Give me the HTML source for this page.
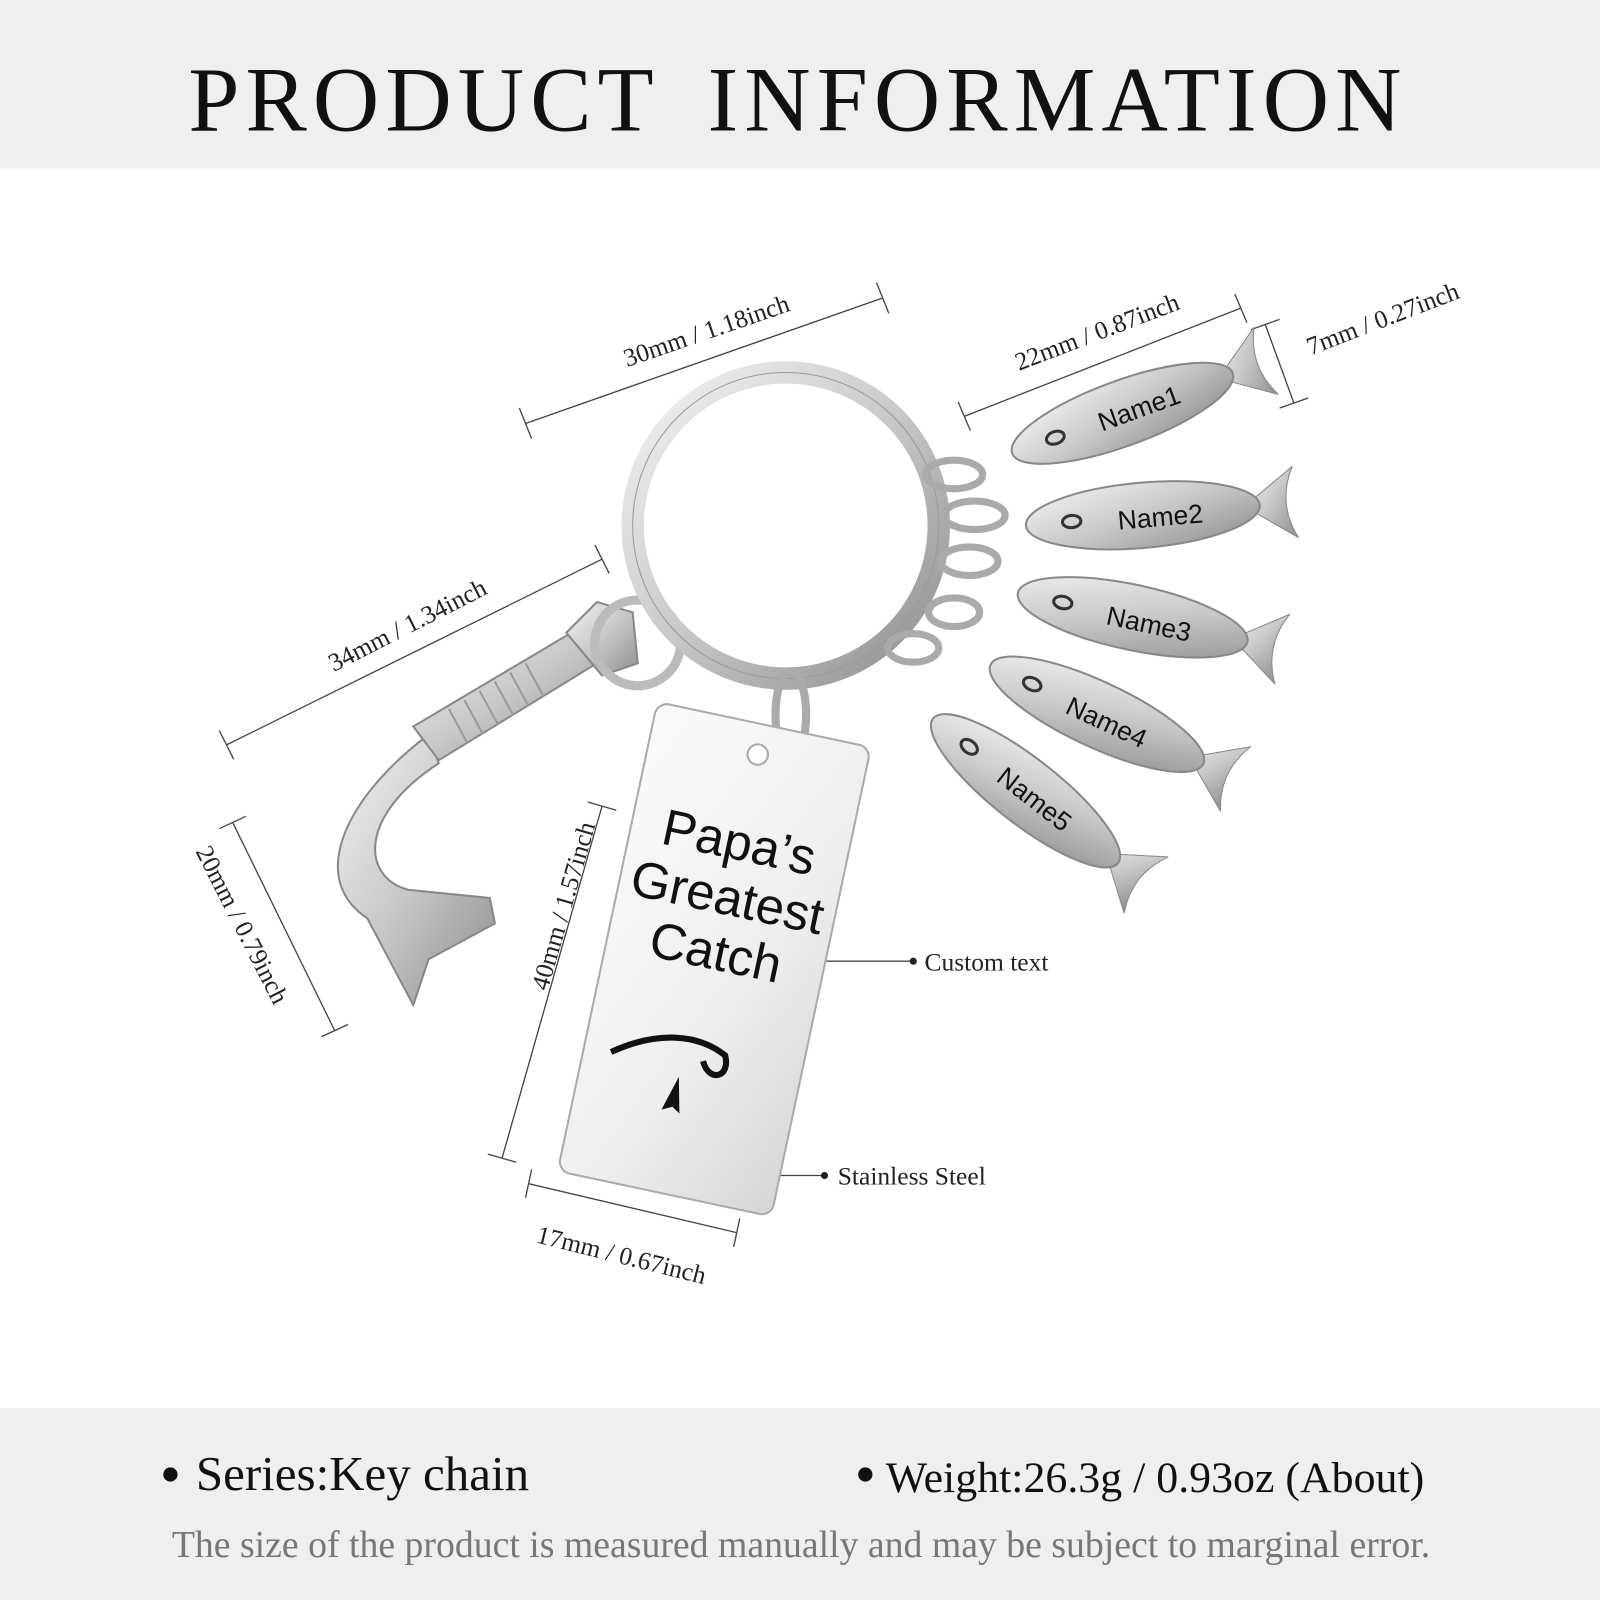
<!DOCTYPE html>
<html><head><meta charset="utf-8"><style>
html,body{margin:0;padding:0;background:#fff;}
svg{display:block}
</style></head><body>
<svg width="1600" height="1600" viewBox="0 0 1568 1568" xmlns="http://www.w3.org/2000/svg">
<defs>
<linearGradient id="steel" x1="0" y1="0" x2="1" y2="1">
<stop offset="0" stop-color="#f4f4f4"/><stop offset="0.5" stop-color="#c8c8c8"/><stop offset="1" stop-color="#8e8e8e"/>
</linearGradient>
<linearGradient id="tag" x1="0" y1="0" x2="1" y2="1">
<stop offset="0" stop-color="#fbfbfb"/><stop offset="0.6" stop-color="#eeeeee"/><stop offset="1" stop-color="#d6d6d6"/>
</linearGradient>
</defs>
<rect x="0" y="0" width="1568" height="165" fill="#efefef"/>
<text x="782" y="128" text-anchor="middle" font-family="Liberation Serif, serif" font-size="90" fill="#111" letter-spacing="6" word-spacing="20">PRODUCT INFORMATION</text>

<g stroke="#444" stroke-width="1.3" fill="none">
<line x1="515" y1="415" x2="865" y2="292"/><line x1="509" y1="400" x2="521" y2="430"/><line x1="859" y1="277" x2="871" y2="307"/>
<line x1="945" y1="408" x2="1216" y2="302"/><line x1="939" y1="394" x2="951" y2="422"/><line x1="1210" y1="288" x2="1222" y2="316"/>
<line x1="1240" y1="318" x2="1268" y2="395"/><line x1="1226" y1="323" x2="1254" y2="313"/><line x1="1254" y1="400" x2="1282" y2="390"/>
<line x1="222" y1="730" x2="590" y2="548"/><line x1="215" y1="716" x2="229" y2="744"/><line x1="583" y1="534" x2="597" y2="562"/>
<line x1="228" y1="806" x2="328" y2="1010"/><line x1="215" y1="812" x2="241" y2="800"/><line x1="315" y1="1016" x2="341" y2="1004"/>
<line x1="590" y1="790" x2="492" y2="1135"/><line x1="576" y1="786" x2="604" y2="794"/><line x1="478" y1="1131" x2="506" y2="1139"/>
<line x1="518" y1="1160" x2="722" y2="1208"/><line x1="521" y1="1146" x2="515" y2="1174"/><line x1="725" y1="1194" x2="719" y2="1222"/>
<line x1="772" y1="942" x2="895" y2="942"/><line x1="690" y1="1152" x2="808" y2="1152"/>
</g>
<circle cx="895" cy="942" r="3.5" fill="#222"/><circle cx="808" cy="1152" r="3.5" fill="#222"/>
<g font-family="Liberation Serif, serif" font-size="25" fill="#222">
<text transform="translate(695,332) rotate(-19)" text-anchor="middle">30mm / 1.18inch</text>
<text transform="translate(1078,333) rotate(-21)" text-anchor="middle">22mm / 0.87inch</text>
<text transform="translate(1358,320) rotate(-21)" text-anchor="middle">7mm / 0.27inch</text>
<text transform="translate(403,620) rotate(-27)" text-anchor="middle">34mm / 1.34inch</text>
<text transform="translate(230,910) rotate(63)" text-anchor="middle">20mm / 0.79inch</text>
<text transform="translate(560,890) rotate(-74)" text-anchor="middle">40mm / 1.57inch</text>
<text transform="translate(607,1238) rotate(14)" text-anchor="middle">17mm / 0.67inch</text>
<text x="906" y="951">Custom text</text>
<text x="821" y="1161">Stainless Steel</text>
</g>

<path d="M420,720 C340,780 300,860 360,900 L405,985 L420,940 L485,905 L480,880 L400,872 C355,860 350,800 430,748 Z" fill="url(#steel)" stroke="#888" stroke-width="2"/>
<path d="M405,712 L560,620 L585,650 L430,745 Z" fill="url(#steel)" stroke="#888" stroke-width="2"/>
<g stroke="#999" stroke-width="2">
<line x1="440" y1="695" x2="458" y2="728"/><line x1="455" y1="686" x2="473" y2="719"/><line x1="470" y1="677" x2="488" y2="710"/><line x1="485" y1="668" x2="503" y2="701"/><line x1="500" y1="659" x2="518" y2="692"/><line x1="515" y1="650" x2="533" y2="683"/>
</g>
<path d="M555,620 L585,590 L620,600 L625,650 L590,662 Z" fill="url(#steel)" stroke="#888" stroke-width="2"/>
<circle cx="625" cy="630" r="42" fill="none" stroke="#bbb" stroke-width="9"/>

<circle cx="770" cy="515" r="150" fill="none" stroke="url(#steel)" stroke-width="22"/>
<circle cx="770" cy="515" r="150" fill="none" stroke="#999" stroke-width="1"/>
<ellipse cx="775" cy="700" rx="15" ry="42" fill="none" stroke="#aaa" stroke-width="8"/>

<g transform="translate(700,940) rotate(12)">
<rect x="-107" y="-235" width="214" height="470" rx="12" fill="url(#tag)" stroke="#aaa" stroke-width="2"/>
<circle cx="0" cy="-205" r="10" fill="#fff" stroke="#aaa" stroke-width="2"/>
<g font-family="Liberation Sans, sans-serif" font-size="50" fill="#111" text-anchor="middle">
<text x="0" y="-100">Papa’s</text><text x="0" y="-45">Greatest</text><text x="0" y="10">Catch</text>
</g>
<path d="M-80,110 C-40,80 0,75 30,90 C40,110 20,120 10,100" fill="none" stroke="#111" stroke-width="6"/>
<path d="M-10,120 l-10,35 l10,-5 l8,5 z" fill="#111"/>
</g>

<g font-family="Liberation Sans, sans-serif" font-size="26" fill="#111">
<g transform="translate(1100,405) rotate(-20)"><path d="M100,0 L150,-35 Q132,0 150,35 Z" fill="url(#steel)" stroke="#888"/><ellipse cx="0" cy="0" rx="115" ry="32" fill="url(#steel)" stroke="#888" stroke-width="2"/><ellipse cx="-70" cy="0" rx="9" ry="6" fill="none" stroke="#333" stroke-width="3"/><text x="-25" y="10">Name1</text></g>
<g transform="translate(1120,505) rotate(-5)"><path d="M100,0 L150,-35 Q132,0 150,35 Z" fill="url(#steel)" stroke="#888"/><ellipse cx="0" cy="0" rx="115" ry="32" fill="url(#steel)" stroke="#888" stroke-width="2"/><ellipse cx="-70" cy="0" rx="9" ry="6" fill="none" stroke="#333" stroke-width="3"/><text x="-25" y="12">Name2</text></g>
<g transform="translate(1110,605) rotate(12)"><path d="M100,0 L150,-35 Q132,0 150,35 Z" fill="url(#steel)" stroke="#888"/><ellipse cx="0" cy="0" rx="115" ry="32" fill="url(#steel)" stroke="#888" stroke-width="2"/><ellipse cx="-70" cy="0" rx="9" ry="6" fill="none" stroke="#333" stroke-width="3"/><text x="-25" y="12">Name3</text></g>
<g transform="translate(1075,700) rotate(25)"><path d="M100,0 L150,-35 Q132,0 150,35 Z" fill="url(#steel)" stroke="#888"/><ellipse cx="0" cy="0" rx="115" ry="32" fill="url(#steel)" stroke="#888" stroke-width="2"/><ellipse cx="-70" cy="0" rx="9" ry="6" fill="none" stroke="#333" stroke-width="3"/><text x="-30" y="12">Name4</text></g>
<g transform="translate(1005,775) rotate(38)"><path d="M100,0 L150,-35 Q132,0 150,35 Z" fill="url(#steel)" stroke="#888"/><ellipse cx="0" cy="0" rx="115" ry="32" fill="url(#steel)" stroke="#888" stroke-width="2"/><ellipse cx="-70" cy="0" rx="9" ry="6" fill="none" stroke="#333" stroke-width="3"/><text x="-30" y="10">Name5</text></g>
</g>
<g fill="none" stroke="#aaa" stroke-width="7">
<ellipse cx="935" cy="465" rx="28" ry="14"/><ellipse cx="955" cy="505" rx="30" ry="14"/><ellipse cx="950" cy="550" rx="28" ry="14"/><ellipse cx="935" cy="600" rx="25" ry="14"/><ellipse cx="895" cy="635" rx="25" ry="14"/>
</g>

<rect x="0" y="1380" width="1568" height="188" fill="#efefef"/>
<g font-family="Liberation Serif, serif" fill="#111">
<circle cx="167" cy="1445" r="7"/><text x="192" y="1460" font-size="48">Series:Key chain</text>
<circle cx="848" cy="1445" r="7"/><text x="868" y="1462" font-size="43">Weight:26.3g / 0.93oz (About)</text>
</g>
<text x="785" y="1526" text-anchor="middle" font-family="Liberation Serif, serif" font-size="37" fill="#777">The size of the product is measured manually and may be subject to marginal error.</text>
</svg>
</body></html>
